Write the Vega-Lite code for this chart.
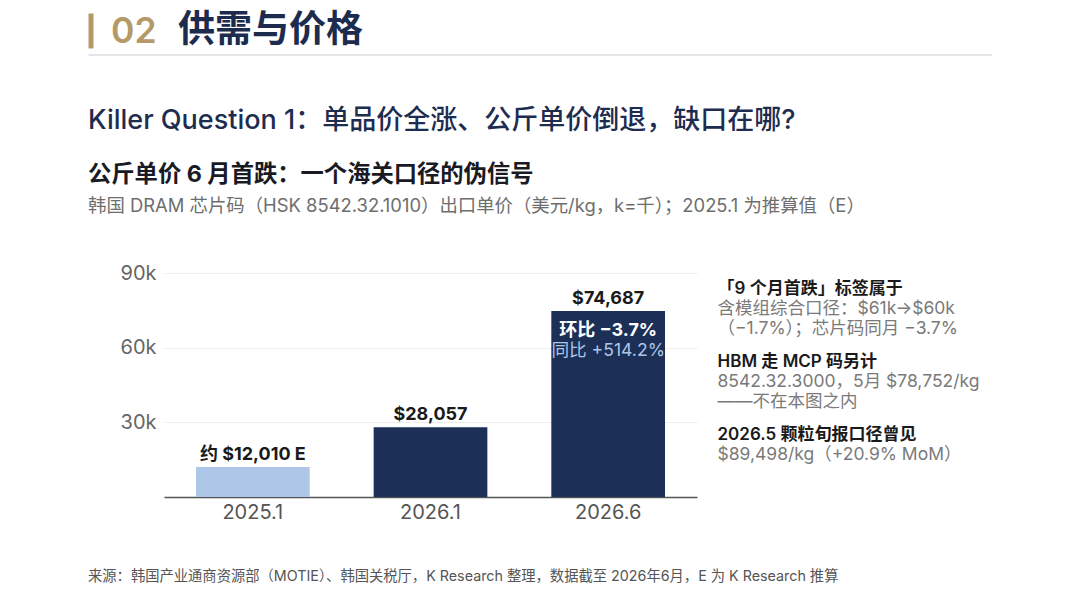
{
  "$schema": "https://vega.github.io/schema/vega-lite/v6.json",
  "background": "white",
  "padding": {"left": 88, "top": 12, "right": 0, "bottom": 0},
  "config": {
    "font": "Inter, 'Noto Sans CJK SC'",
    "view": {"stroke": null},
    "concat": {"spacing": 4.5},
    "title": {"anchor": "start", "frame": "bounds", "font": "Inter, 'Noto Sans CJK SC'"}
  },
  "datasets": {
    "section": [
      {"sec": "02", "part": "02"},
      {"sec": "02", "part": "供需与价格"}
    ],
    "bars": [
      {"period": "2025.1", "value": 12010, "kind": "推算值", "label": "约 $12,010 E", "mom": null, "yoy": null},
      {"period": "2026.1", "value": 28057, "kind": "实际值", "label": "$28,057", "mom": null, "yoy": null},
      {"period": "2026.6", "value": 74687, "kind": "实际值", "label": "$74,687", "mom": "环比 −3.7%", "yoy": "同比 +514.2%"}
    ],
    "notes": [
      {"block": 1, "head": "「9 个月首跌」标签属于", "body": "含模组综合口径：$61k→$60k\n（−1.7%）；芯片码同月 −3.7%"},
      {"block": 2, "head": "HBM 走 MCP 码另计", "body": "8542.32.3000，5月 $78,752/kg\n——不在本图之内"},
      {"block": 3, "head": "2026.5 颗粒旬报口径曾见", "body": "$89,498/kg（+20.9% MoM）"}
    ]
  },
  "title": {
    "text": "来源：韩国产业通商资源部（MOTIE）、韩国关税厅，K Research 整理，数据截至 2026年6月，E 为 K Research 推算",
    "orient": "bottom",
    "anchor": "start",
    "fontSize": 14.3,
    "fontWeight": "normal",
    "color": "#555555",
    "offset": 48
  },
  "vconcat": [
    {
      "width": 134,
      "height": 35,
      "data": {"name": "section"},
      "encoding": {
        "x": {"field": "part", "type": "nominal", "sort": null, "scale": {"type": "point", "padding": 0.5}, "axis": null},
        "y": {"field": "sec", "type": "nominal", "axis": {"labels": false, "ticks": false, "title": null, "domainColor": "#B49A67", "domainWidth": 5, "offset": -2.5}},
        "text": {"field": "part"}
      },
      "layer": [
        {
          "transform": [{"filter": "datum.part == '02'"}],
          "mark": {"type": "text", "align": "left", "baseline": "middle", "fontSize": 35.5, "fontWeight": 600, "dx": -10.5, "dy": 1, "color": "#B49A67"}
        },
        {
          "transform": [{"filter": "datum.part != '02'"}],
          "mark": {"type": "text", "align": "left", "baseline": "middle", "fontSize": 37, "fontWeight": "bold", "dx": -10.5, "dy": 0.5, "color": "#1C2B4E"}
        }
      ]
    },
    {
      "width": 904,
      "height": 48,
      "data": {"name": "section"},
      "transform": [{"filter": "datum.part == '02'"}],
      "mark": {"type": "text"},
      "encoding": {
        "x": {"field": "sec", "type": "nominal", "axis": {"orient": "top", "labels": false, "ticks": false, "title": null, "domainColor": "#dcdcdc", "domainWidth": 1.5}}
      }
    },
    {
      "title": {"text": "Killer Question 1：单品价全涨、公斤单价倒退，缺口在哪?", "fontSize": 27, "fontWeight": 500, "color": "#1E2D4F", "offset": 28},
      "vconcat": [
        {
          "title": {
            "text": "公斤单价 6 月首跌：一个海关口径的伪信号",
            "subtitle": "韩国 DRAM 芯片码（HSK 8542.32.1010）出口单价（美元/kg，k=千）；2025.1 为推算值（E）",
            "fontSize": 23.3,
            "fontWeight": "bold",
            "color": "#1A1A24",
            "subtitleFontSize": 18.4,
            "subtitleColor": "#6E6E6E",
            "subtitleFont": "Inter, 'Noto Sans CJK SC'",
            "subtitlePadding": 9,
            "offset": 47
          },
          "hconcat": [
            {
              "width": 12,
              "height": 1,
              "data": {"name": "section"},
              "transform": [{"filter": "datum.part == '02'"}],
              "mark": {"type": "text"},
              "encoding": {}
            },
            {
              "width": 533,
              "height": 224,
              "data": {"name": "bars"},
              "encoding": {
                "x": {
                  "field": "period", "type": "nominal", "sort": null,
                  "scale": {"paddingInner": 0.36, "paddingOuter": 0.18},
                  "axis": {"labelAngle": 0, "labelFontSize": 20, "labelColor": "#555555", "ticks": false, "domainColor": "#555555", "domainWidth": 1.5, "labelPadding": 5, "title": null}
                },
                "y": {
                  "field": "value", "type": "quantitative",
                  "scale": {"domain": [0, 90000], "nice": false},
                  "axis": {"values": [30000, 60000, 90000], "format": "~s", "labelFontSize": 20, "labelColor": "#666666", "labelPadding": 8, "ticks": false, "domain": false, "gridColor": "#eeeeee", "title": null}
                }
              },
              "layer": [
                {
                  "mark": {"type": "bar"},
                  "encoding": {
                    "color": {"field": "kind", "type": "nominal", "scale": {"domain": ["推算值", "实际值"], "range": ["#AEC6E8", "#1B2F57"]}, "legend": null}
                  }
                },
                {
                  "mark": {"type": "text", "fontSize": 18, "fontWeight": "bold", "color": "#1A1A1A", "baseline": "alphabetic", "dy": -7},
                  "encoding": {"text": {"field": "label"}}
                },
                {
                  "transform": [{"filter": "datum.mom != null"}],
                  "mark": {"type": "text", "fontSize": 18, "fontWeight": "bold", "color": "white", "baseline": "middle", "dy": 20},
                  "encoding": {"text": {"field": "mom"}}
                },
                {
                  "transform": [{"filter": "datum.yoy != null"}],
                  "mark": {"type": "text", "fontSize": 17.6, "color": "#AEC6E8", "baseline": "middle", "dy": 40},
                  "encoding": {"text": {"field": "yoy"}}
                }
              ]
            },
            {
              "width": 1,
              "height": 146,
              "data": {"name": "notes"},
              "encoding": {
                "y": {"field": "block", "type": "ordinal", "scale": {"type": "point", "padding": 0}, "axis": null}
              },
              "layer": [
                {
                  "mark": {"type": "text", "align": "left", "baseline": "middle", "fontSize": 17, "fontWeight": 600, "color": "#1A1A1A", "dy": 16},
                  "encoding": {"text": {"field": "head"}}
                },
                {
                  "mark": {"type": "text", "align": "left", "baseline": "middle", "fontSize": 17.5, "color": "#7A7A7A", "dy": 36, "lineBreak": "\n", "lineHeight": 20},
                  "encoding": {"text": {"field": "body"}}
                }
              ]
            }
          ],
          "spacing": 20
        }
      ]
    }
  ]
}
